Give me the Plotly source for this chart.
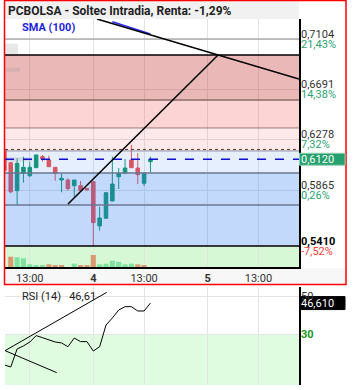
import plotly.graph_objects as go

W, H = 353, 390

# ---- data (30-min candles, slot 0 = day 4 09:00) ----
slots = list(range(-14, 10))
opens  = [0.6196, 0.6092, 0.5863, 0.6005, 0.5985, 0.6051, 0.6141, 0.6114, 0.6054, 0.5950, 0.5950, 0.5904, 0.5904, 0.5880,
          0.5936, 0.5574, 0.5637, 0.5778, 0.5977, 0.6005, 0.6114, 0.6048, 0.5923, 0.6100]
highs  = [0.6204, 0.6095, 0.6128, 0.6141, 0.6097, 0.6155, 0.6155, 0.6149, 0.6054, 0.6005, 0.5964, 0.5950, 0.5942, 0.5885,
          0.5940, 0.5732, 0.5846, 0.6141, 0.6048, 0.6122, 0.6237, 0.6169, 0.6007, 0.6141]
lows   = [0.6020, 0.5841, 0.5746, 0.5928, 0.5975, 0.6051, 0.6100, 0.6059, 0.5944, 0.5850, 0.5863, 0.5814, 0.5863, 0.5860,
          0.5410, 0.5535, 0.5637, 0.5778, 0.5877, 0.6005, 0.6051, 0.5917, 0.5901, 0.6013]
closes = [0.6026, 0.5854, 0.6087, 0.6054, 0.6054, 0.6155, 0.6122, 0.6059, 0.6005, 0.5964, 0.5879, 0.5950, 0.5863, 0.5870,
          0.5601, 0.5639, 0.5846, 0.5917, 0.6005, 0.6048, 0.6051, 0.5994, 0.6007, 0.6120]
volumes = [0, 50, 47, 42, 13, 8, 8, 13, 8, 8, 0, 16, 8, 8,
           58, 13, 16, 30, 25, 13, 16, 13, 8, 0]
vol_up = [False, False, True, True, True, True, True, False, False, False, False, True, False, False,
          False, True, True, True, True, True, True, False, False, True]
rsi = [13.7, 12.6, 22.2, 23.8, 25.9, 29.3, 28.2, 27.0, 25.9, 25.4, 23.4, 28.0, 26.1, 26.1,
       21.1, 23.4, 34.9, 38.7, 42.9, 44.7, 44.7, 42.4, 42.4, 46.61]
sma_slots = [3, 4, 5, 6, 7, 8, 9]
sma_vals = [0.7245, 0.7228, 0.7212, 0.7195, 0.7178, 0.7162, 0.7145]

x_tickvals = [-10, 0, 8, 18, 26]
x_ticktext = ["13:00", "<b>4</b>", "13:00", "<b>5</b>", "13:00"]
price_ticks = [0.7104, 0.6691, 0.6278, 0.5865, 0.5410]
price_text = ["0,7104", "0,6691", "0,6278", "0,5865", "<b>0,5410</b>"]
pct_text = ["21,43%", "14,38%", "7,32%", "0,26%", "-7,52%"]
pct_color = ["#2aa372", "#2aa372", "#2aa372", "#2aa372", "#f04040"]

# zones (price bands) and level lines
zones = [(0.6605, 0.6973, "rgba(190,20,20,0.30)"),
         (0.6376, 0.6605, "rgba(240,40,40,0.20)"),
         (0.6188, 0.6376, "rgba(240,40,40,0.10)"),
         (0.6007, 0.6188, "rgba(40,120,240,0.12)"),
         (0.5410, 0.6007, "rgba(40,120,240,0.28)")]
levels = [(0.7104, "#8a8a8a", 1, "solid"),
          (0.6973, "#000000", 1.5, "solid"),
          (0.6605, "#8c6c6c", 1.5, "solid"),
          (0.6376, "#9a7e7e", 1, "solid"),
          (0.6188, "#8a8e9a", 1, "solid"),
          (0.6200, "#5a3a3a", 1, "dot"),
          (0.6120, "#1010d0", 1.5, "dash"),
          (0.6007, "#6a7690", 1.5, "solid"),
          (0.5746, "#6a7690", 1.5, "solid"),
          (0.5410, "#000000", 1.5, "solid")]
last_price = 0.6120
trend_down = ([0.58, 32.39], [0.7268, 0.6777])
trend_up = ([-3.98, 19.65], [0.5754, 0.6973])
rsi_line1 = ([-13.9, 2.11], [21.3, 52.3])
rsi_line2 = ([-13.9, -5.76], [21.3, 9.6])
# faint hidden-label patches at the left edge (price, height)
ghost_patches = [(0.7066, 0.6970, 13), (0.6870, 0.6836, 15), (0.6137, 0.6100, 27)]

XR = [-13.906, 32.394]
YR = [0.52381, 0.72677]
RR = [3.03, 55.16]
xd = [5 / W, 299 / W]

fig = go.Figure()
fig.add_trace(go.Candlestick(
    x=slots, open=opens, high=highs, low=lows, close=closes,
    increasing=dict(line=dict(color="#15986e", width=1), fillcolor="#15986e"),
    decreasing=dict(line=dict(color="#ef5350", width=1), fillcolor="#ef5350"),
    whiskerwidth=0, xaxis="x", yaxis="y", showlegend=False, hoverinfo="skip"))
fig.add_trace(go.Bar(
    x=slots, y=volumes, marker=dict(color=["#7ee3a0" if u else "#d99a72" for u in vol_up], line=dict(width=0)),
    xaxis="x", yaxis="y3", showlegend=False, hoverinfo="skip"))
fig.add_trace(go.Scatter(x=sma_slots, y=sma_vals, mode="lines", line=dict(color="#2a2aff", width=1.5),
                         xaxis="x", yaxis="y", showlegend=False, hoverinfo="skip"))
fig.add_trace(go.Scatter(x=slots, y=rsi, mode="lines", line=dict(color="#000000", width=1),
                         xaxis="x2", yaxis="y2", showlegend=False, hoverinfo="skip"))
for xs, ys in (rsi_line1, rsi_line2):
    fig.add_trace(go.Scatter(x=xs, y=ys, mode="lines", line=dict(color="#000000", width=1),
                             xaxis="x2", yaxis="y2", showlegend=False, hoverinfo="skip"))

shapes = []
shapes.append(dict(type="rect", xref="x domain", yref="y", x0=0, x1=1, y0=YR[0], y1=0.5410,
                   fillcolor="rgb(214,248,212)", line=dict(width=0), layer="below"))
shapes.append(dict(type="rect", xref="x2 domain", yref="y2", x0=0, x1=1, y0=RR[0], y1=30,
                   fillcolor="rgb(224,252,224)", line=dict(width=0), layer="below"))
for y0, y1, c in zones:
    shapes.append(dict(type="rect", xref="x domain", yref="y", x0=0, x1=1, y0=y0, y1=y1,
                       fillcolor=c, line=dict(width=0), layer="above"))
for y0, y1, wpx in ghost_patches:
    shapes.append(dict(type="rect", xref="x domain", yref="y", x0=0, x1=wpx / 294, y0=y1, y1=y0,
                       fillcolor="rgba(150,150,150,0.22)", line=dict(width=0), layer="above"))
for v, c, w, d in levels:
    shapes.append(dict(type="line", xref="x domain", yref="y", x0=0, x1=1, y0=v, y1=v,
                       line=dict(color=c, width=w, dash=d), layer="above"))
for xs, ys in (trend_down, trend_up):
    shapes.append(dict(type="line", xref="x", yref="y", x0=xs[0], x1=xs[1], y0=ys[0], y1=ys[1],
                       line=dict(color="#000000", width=1.5), layer="above"))
shapes.append(dict(type="rect", xref="paper", yref="paper", x0=5 / W, x1=299 / W, y0=1 - 19 / H, y1=1,
                   fillcolor="rgb(241,241,241)", line=dict(width=0), layer="above"))
shapes.append(dict(type="rect", xref="paper", yref="paper", x0=5 / W, x1=346 / W, y0=1 - 284 / H, y1=1 - 268 / H,
                   fillcolor="rgb(247,247,247)", line=dict(width=0), layer="below"))
shapes.append(dict(type="rect", xref="paper", yref="paper", x0=4.5 / W, x1=346 / W, y0=1 - 284.5 / H, y1=1 - 0.5 / H,
                   fillcolor="rgba(0,0,0,0)", line=dict(color="#ff0000", width=1.5), layer="above"))
shapes.append(dict(type="rect", xref="paper", yref="y", x0=299.5 / W, x1=345 / W,
                   y0=last_price - 6 / 1222, y1=last_price + 6 / 1222,
                   fillcolor="#26a06e", line=dict(color="#8fd0b0", width=1), layer="above"))
shapes.append(dict(type="rect", xref="paper", yref="y2", x0=299.5 / W, x1=345 / W,
                   y0=rsi[-1] - 6.5 / 1.88, y1=rsi[-1] + 6.5 / 1.88,
                   fillcolor="#000000", line=dict(color="#000000", width=1), layer="above"))

ann = []
ann.append(dict(text="<b>PCBOLSA - Soltec Intradia, Renta: -1,29%</b>", xref="paper", yref="paper",
                x=6 / W, y=1 - 11 / H, xanchor="left", yanchor="middle", showarrow=False,
                font=dict(size=12, color="#222222")))
ann.append(dict(text="<b>SMA (100)</b>", xref="paper", yref="paper", x=20 / W, y=1 - 28 / H,
                xanchor="left", yanchor="middle", showarrow=False, font=dict(size=11, color="#1f1fe0")))
ann.append(dict(text="RSI (14)   46,61", xref="paper", yref="paper", x=20 / W, y=1 - 296 / H,
                xanchor="left", yanchor="middle", showarrow=False, font=dict(size=11, color="#222222")))
for v, t, p, pc in zip(price_ticks, price_text, pct_text, pct_color):
    ann.append(dict(text=t, xref="paper", yref="y", x=299 / W, y=v, yshift=5, xanchor="left",
                    yanchor="middle", showarrow=False, font=dict(size=11, color="#000000" if v == 0.5410 else "#333333")))
    ann.append(dict(text=p, xref="paper", yref="y", x=299 / W, y=v, yshift=-5, xanchor="left",
                    yanchor="middle", showarrow=False, font=dict(size=11, color=pc)))
ann.append(dict(text="50", xref="paper", yref="y2", x=299 / W, y=50, xanchor="left", yanchor="middle",
                showarrow=False, font=dict(size=11, color="#333333")))
ann.append(dict(text="<b>30</b>", xref="paper", yref="y2", x=299 / W, y=30, xanchor="left", yanchor="middle",
                showarrow=False, font=dict(size=11, color="#1a9a1a")))
ann.append(dict(text="0,6120", xref="paper", yref="y", x=299 / W, y=last_price, xanchor="left", yanchor="middle",
                showarrow=False, font=dict(size=11, color="#ffffff")))
ann.append(dict(text="46,610", xref="paper", yref="y2", x=299 / W, y=rsi[-1], xanchor="left", yanchor="middle",
                showarrow=False, font=dict(size=11, color="#ffffff")))

vmax = max(volumes)
fig.update_layout(
    width=W, height=H, margin=dict(l=0, r=0, t=0, b=0),
    paper_bgcolor="white", plot_bgcolor="white",
    font=dict(family="Roboto", size=11, color="#333333"),
    boxgap=0.2, bargap=0.2, showlegend=False,
    xaxis=dict(domain=xd, range=XR, tickvals=x_tickvals, ticktext=x_ticktext, showgrid=True,
               gridcolor="#e4e4e4", gridwidth=1, showline=True, linecolor="#000000", linewidth=1.5,
               ticks="", tickfont=dict(size=11, color="#333333"), zeroline=False, anchor="y",
               rangeslider=dict(visible=False), fixedrange=True),
    yaxis=dict(domain=[1 - 267 / H, 1 - 19 / H], range=YR, tickvals=price_ticks, showticklabels=False,
               showgrid=True, gridcolor="#e4e4e4", zeroline=False, side="right", showline=True,
               linecolor="#000000", linewidth=1.5, anchor="x"),
    yaxis3=dict(overlaying="y", range=[0, vmax * 248 / 12], visible=False, anchor="x"),
    xaxis2=dict(domain=xd, range=XR, tickvals=x_tickvals, showticklabels=False, showgrid=True,
                gridcolor="#e4e4e4", zeroline=False, anchor="y2", ticks=""),
    yaxis2=dict(domain=[5 / H, 1 - 287 / H], range=RR, tickvals=[30, 50], showticklabels=False,
                showgrid=True, gridcolor="#e4e4e4", zeroline=False, side="right", showline=True,
                linecolor="#000000", linewidth=1.5, anchor="x2"),
    shapes=shapes, annotations=ann,
)
fig.write_html("out.html")
